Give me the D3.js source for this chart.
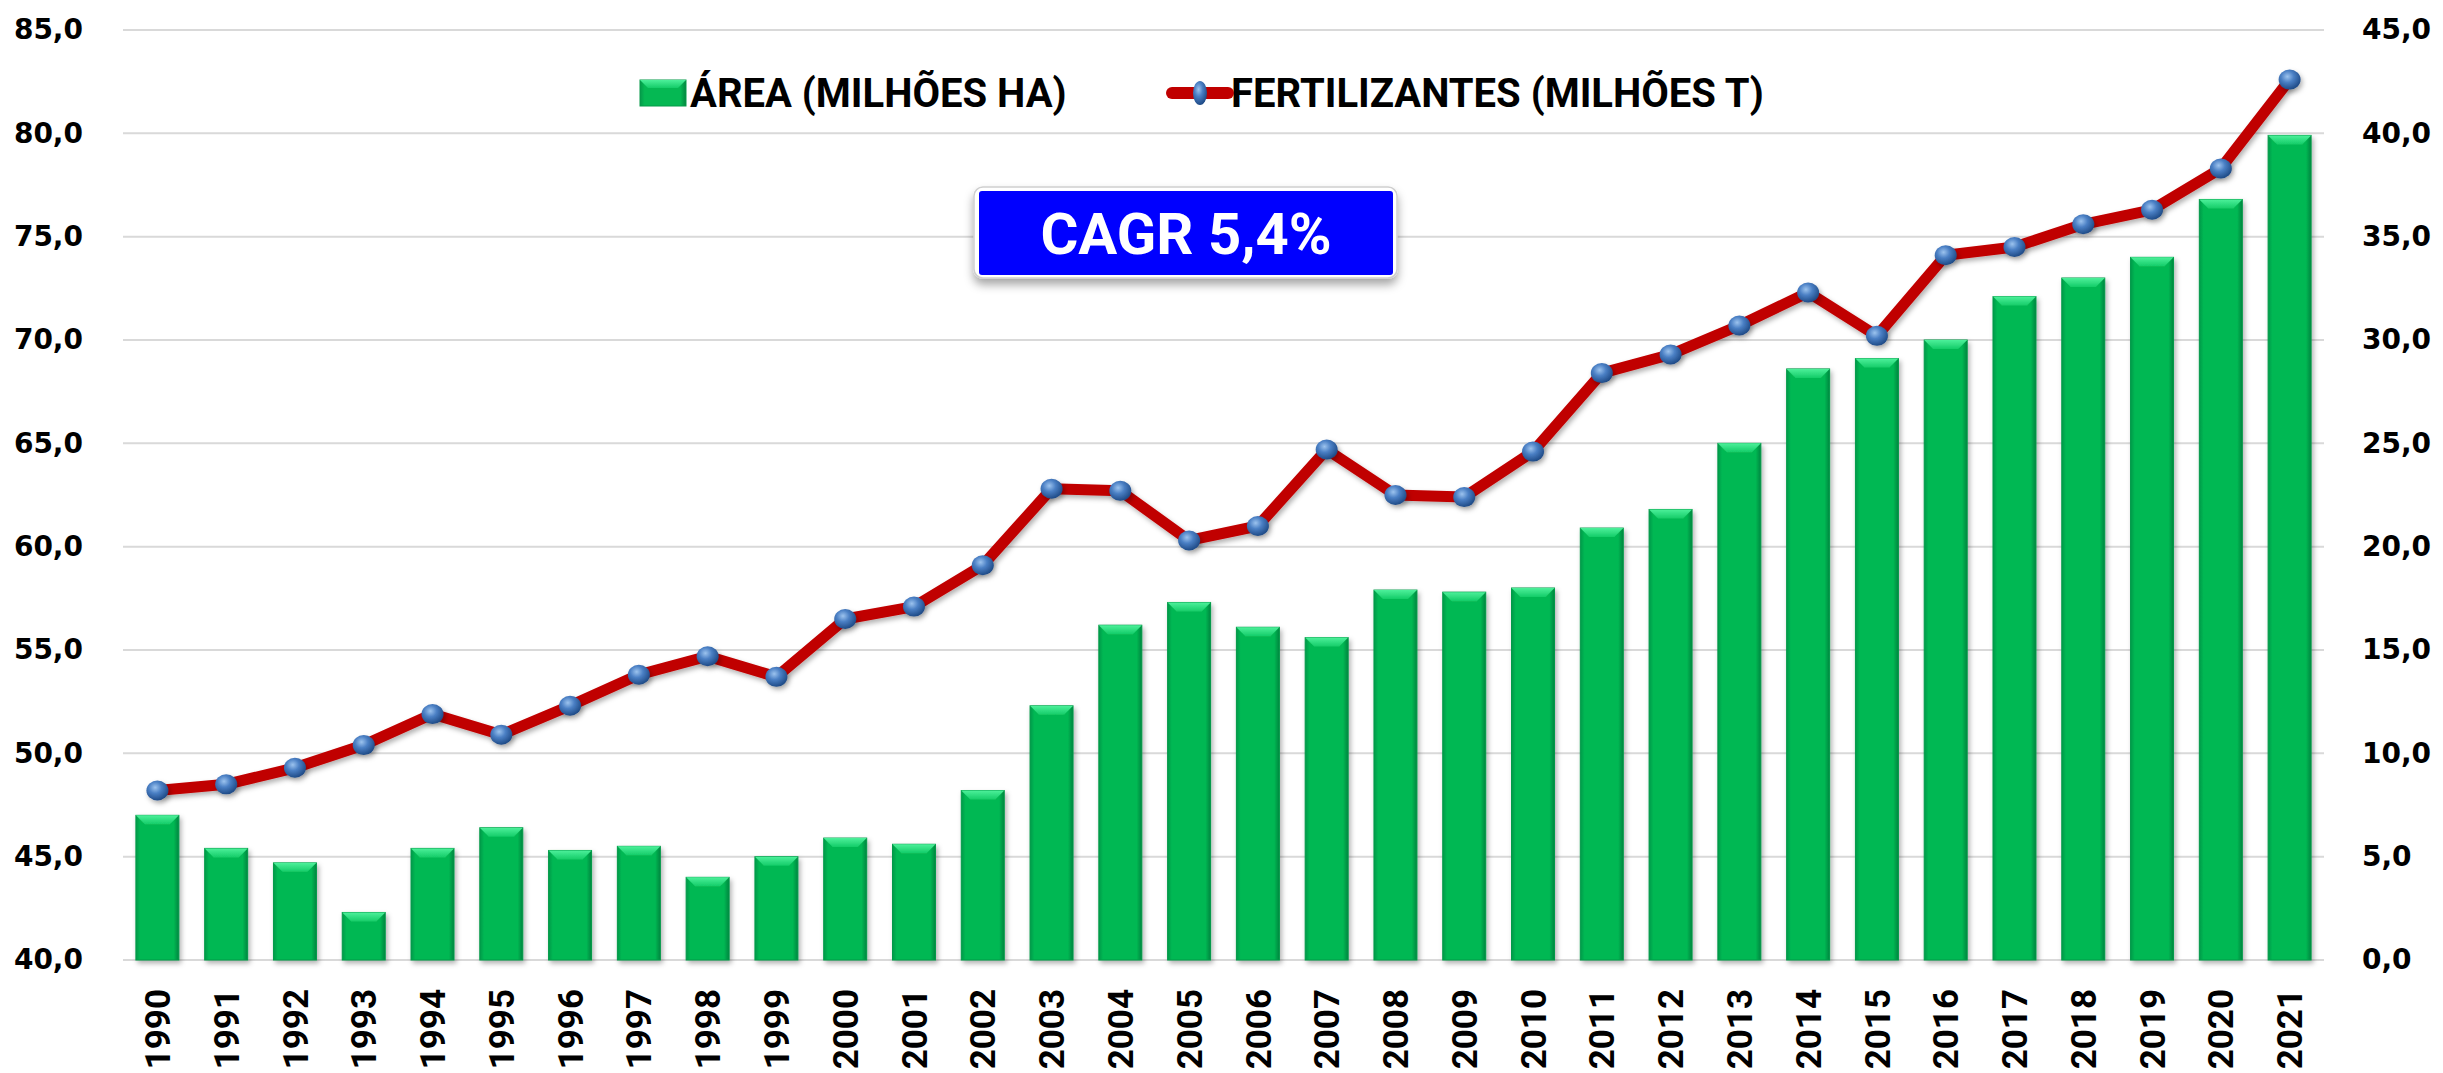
<!DOCTYPE html>
<html>
<head>
<meta charset="utf-8">
<script src="https://cdn.jsdelivr.net/npm/d3@7"></script>
<style>
    html, body { margin: 0; padding: 0; background: #ffffff; }
    svg { display: block; }
</style>
</head>
<body>
<div id="chart"></div>
<script>
// Chart data
const years = ['1990', '1991', '1992', '1993', '1994', '1995', '1996', '1997', '1998', '1999',
               '2000', '2001', '2002', '2003', '2004', '2005', '2006', '2007', '2008', '2009',
               '2010', '2011', '2012', '2013', '2014', '2015', '2016', '2017', '2018', '2019',
               '2020', '2021'];
const area = [47.0, 45.4, 44.7, 42.3, 45.4, 46.4, 45.3, 45.5, 44.0, 45.0,
              45.9, 45.6, 48.2, 52.3, 56.2, 57.3, 56.1, 55.6, 57.9, 57.8,
              58.0, 60.9, 61.8, 65.0, 68.6, 69.1, 70.0, 72.1, 73.0, 74.0,
              76.8, 79.9];
const fertilizers = [8.2, 8.5, 9.3, 10.4, 11.9, 10.9, 12.3, 13.8, 14.7, 13.7,
                     16.5, 17.1, 19.1, 22.8, 22.7, 20.3, 21.0, 24.7, 22.5, 22.4,
                     24.6, 28.4, 29.3, 30.7, 32.3, 30.2, 34.1, 34.5, 35.6, 36.3,
                     38.3, 42.6];
const leftTicks = [40, 45, 50, 55, 60, 65, 70, 75, 80, 85];
const rightTicks = [0, 5, 10, 15, 20, 25, 30, 35, 40, 45];
const seriesNames = ['ÁREA (MILHÕES HA)', 'FERTILIZANTES (MILHÕES T)'];
const cagrLabel = 'CAGR 5,4%';

const width = 2443;
const height = 1073;
const plot = { left: 123, right: 2324, top: 30, bottom: 960 };
const fmt = v => d3.format('.1f')(v).replace('.', ',');

const svg = d3.select('#chart').append('svg')
    .attr('width', width)
    .attr('height', height);

const defs = svg.append('defs');

// Bar body: darker at the edges
const barGrad = defs.append('linearGradient').attr('id', 'barGrad')
    .attr('x1', 0).attr('x2', 1).attr('y1', 0).attr('y2', 0);
barGrad.append('stop').attr('offset', '0%').attr('stop-color', '#05994a');
barGrad.append('stop').attr('offset', '10%').attr('stop-color', '#05b853');
barGrad.append('stop').attr('offset', '88%').attr('stop-color', '#05b853');
barGrad.append('stop').attr('offset', '100%').attr('stop-color', '#04853f');

// Bevel on top of each bar
const bevelGrad = defs.append('linearGradient').attr('id', 'bevelGrad')
    .attr('x1', 0).attr('x2', 0).attr('y1', 0).attr('y2', 1);
bevelGrad.append('stop').attr('offset', '0%').attr('stop-color', '#4cf09a');
bevelGrad.append('stop').attr('offset', '100%').attr('stop-color', '#14cc68');

// Marker spheres
const ballGrad = defs.append('radialGradient').attr('id', 'ballGrad')
    .attr('cx', '40%').attr('cy', '35%').attr('r', '65%');
ballGrad.append('stop').attr('offset', '0%').attr('stop-color', '#9cc3ee');
ballGrad.append('stop').attr('offset', '45%').attr('stop-color', '#4a7fc4');
ballGrad.append('stop').attr('offset', '100%').attr('stop-color', '#1f4b87');

const shadow = defs.append('filter').attr('id', 'shadow')
    .attr('x', '-20%').attr('y', '-20%').attr('width', '140%').attr('height', '160%');
shadow.append('feDropShadow')
    .attr('dx', 2).attr('dy', 3).attr('stdDeviation', 2.5)
    .attr('flood-color', '#000').attr('flood-opacity', 0.3);

const boxShadow = defs.append('filter').attr('id', 'boxShadow')
    .attr('x', '-10%').attr('y', '-20%').attr('width', '120%').attr('height', '160%');
boxShadow.append('feDropShadow')
    .attr('dx', 0).attr('dy', 6).attr('stdDeviation', 5)
    .attr('flood-color', '#000').attr('flood-opacity', 0.35);

// Scales
const x = d3.scaleBand()
    .domain(years)
    .range([plot.left, plot.right])
    .paddingInner(0.375)
    .paddingOuter(0.1875);

const yLeft = d3.scaleLinear()
    .domain([40, 85])
    .range([plot.bottom, plot.top]);

const yRight = d3.scaleLinear()
    .domain([0, 45])
    .range([plot.bottom, plot.top]);

// Gridlines
svg.append('g')
    .attr('class', 'grid')
  .selectAll('line')
    .data(leftTicks)
  .enter()
  .append('line')
    .attr('x1', plot.left)
    .attr('x2', plot.right)
    .attr('y1', d => yLeft(d))
    .attr('y2', d => yLeft(d))
    .attr('stroke', '#d9d9d9')
    .attr('stroke-width', 2);

// Left axis
const leftAxis = d3.axisLeft(yLeft)
    .tickValues(leftTicks)
    .tickSize(0)
    .tickPadding(0)
    .tickFormat(fmt);

svg.append('g')
    .attr('class', 'left-axis')
    .attr('transform', 'translate(83,0)')
    .call(leftAxis)
    .call(g => g.select('.domain').remove())
    .selectAll('text')
    .attr('font-family', 'DejaVu Sans')
    .attr('font-weight', 'bold')
    .attr('font-size', 28)
    .attr('fill', '#000');

// Right axis
const rightAxis = d3.axisRight(yRight)
    .tickValues(rightTicks)
    .tickSize(0)
    .tickPadding(0)
    .tickFormat(fmt);

svg.append('g')
    .attr('class', 'right-axis')
    .attr('transform', 'translate(2362,0)')
    .call(rightAxis)
    .call(g => g.select('.domain').remove())
    .selectAll('text')
    .attr('font-family', 'DejaVu Sans')
    .attr('font-weight', 'bold')
    .attr('font-size', 28)
    .attr('fill', '#000');

// Category labels, rotated
const bottomAxis = d3.axisBottom(x).tickSize(0).tickPadding(0);
svg.append('g')
    .attr('class', 'x-axis')
    .attr('transform', `translate(0,${plot.bottom})`)
    .call(bottomAxis)
    .call(g => g.select('.domain').remove())
    .selectAll('text')
    .attr('font-family', 'Roboto')
    .attr('font-weight', 'bold')
    .attr('font-size', 35)
    .attr('fill', '#000')
    .attr('text-anchor', 'end')
    .attr('transform', 'translate(0,29) rotate(-90)')
    .attr('x', 0)
    .attr('y', 0)
    .attr('dy', '0.36em');

// Bars
const bars = svg.append('g')
    .attr('class', 'bars')
    .attr('filter', 'url(#shadow)')
  .selectAll('g')
    .data(years.map((yr, i) => ({ year: yr, value: area[i] })))
  .enter()
  .append('g');

bars.append('rect')
    .attr('x', d => x(d.year))
    .attr('y', d => yLeft(d.value))
    .attr('width', x.bandwidth())
    .attr('height', d => yLeft(40) - yLeft(d.value))
    .attr('fill', 'url(#barGrad)')
    .attr('stroke', '#059a48')
    .attr('stroke-width', 1);

bars.append('polygon')
    .attr('points', d => {
        let x0 = x(d.year), x1 = x0 + x.bandwidth(), y0 = yLeft(d.value), b = 9;
        return [[x0, y0], [x1, y0], [x1 - b, y0 + b], [x0 + b, y0 + b]].join(' ');
    })
    .attr('fill', 'url(#bevelGrad)');

// Fertilizer line
const line = d3.line()
    .x((d, i) => x(years[i]) + x.bandwidth() / 2)
    .y(d => yRight(d));

svg.append('path')
    .datum(fertilizers)
    .attr('d', line)
    .attr('fill', 'none')
    .attr('stroke', '#c00000')
    .attr('stroke-width', 11)
    .attr('stroke-linejoin', 'round')
    .attr('filter', 'url(#shadow)');

svg.append('g')
    .attr('class', 'markers')
    .attr('filter', 'url(#shadow)')
  .selectAll('ellipse')
    .data(fertilizers)
  .enter()
  .append('ellipse')
    .attr('cx', (d, i) => x(years[i]) + x.bandwidth() / 2)
    .attr('cy', d => yRight(d))
    .attr('rx', 11)
    .attr('ry', 10)
    .attr('fill', 'url(#ballGrad)');

// Legend
const legend = svg.append('g').attr('class', 'legend');
legend.append('rect')
    .attr('x', 640).attr('y', 80)
    .attr('width', 46).attr('height', 26)
    .attr('fill', 'url(#barGrad)')
    .attr('stroke', '#059a48');
legend.append('polygon')
    .attr('points', '640,80 686,80 678,88 648,88')
    .attr('fill', 'url(#bevelGrad)');
legend.append('text')
    .attr('x', 690).attr('y', 93)
    .attr('dy', '0.35em')
    .attr('font-family', 'Roboto')
    .attr('font-weight', 'bold')
    .attr('font-size', 40)
    .text(seriesNames[0]);

legend.append('line')
    .attr('x1', 1172).attr('x2', 1228)
    .attr('y1', 93).attr('y2', 93)
    .attr('stroke', '#c00000')
    .attr('stroke-width', 12)
    .attr('stroke-linecap', 'round');
legend.append('ellipse')
    .attr('cx', 1200).attr('cy', 93)
    .attr('rx', 7).attr('ry', 12)
    .attr('fill', 'url(#ballGrad)');
legend.append('text')
    .attr('x', 1231).attr('y', 93)
    .attr('dy', '0.35em')
    .attr('font-family', 'Roboto')
    .attr('font-weight', 'bold')
    .attr('font-size', 40)
    .text(seriesNames[1]);

// CAGR callout
const callout = svg.append('g').attr('class', 'cagr');
callout.append('rect')
    .attr('x', 974).attr('y', 187)
    .attr('width', 423).attr('height', 91)
    .attr('rx', 9)
    .attr('fill', '#ffffff')
    .attr('stroke', '#cfcfcf')
    .attr('stroke-width', 1.5)
    .attr('filter', 'url(#boxShadow)');
callout.append('rect')
    .attr('x', 979).attr('y', 191)
    .attr('width', 414).attr('height', 84)
    .attr('rx', 3)
    .attr('fill', '#0000ff');
callout.append('text')
    .attr('x', 1186).attr('y', 233)
    .attr('dy', '0.36em')
    .attr('text-anchor', 'middle')
    .attr('font-family', 'Roboto')
    .attr('font-weight', 'bold')
    .attr('font-size', 58)
    .attr('fill', '#ffffff')
    .text(cagrLabel);
</script>
</body>
</html>
